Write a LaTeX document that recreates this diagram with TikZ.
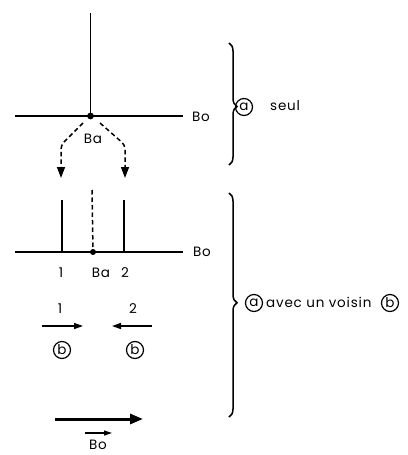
\documentclass[tikz,border=0pt]{standalone}
\usepackage{fontspec}
\setmainfont{Poppins}[LetterSpace=6]
\usetikzlibrary{arrows.meta,decorations.pathreplacing}
\begin{document}
\begin{tikzpicture}[x=1pt,y=-1pt,
  ln/.style={line width=1.5pt},
  lbl/.style={font=\fontsize{13.5}{15}\selectfont,inner sep=0pt},
  circ/.style={draw,circle,line width=1.2pt,minimum size=17pt,inner sep=0pt,font=\fontsize{13.5}{15}\selectfont},
  dsh/.style={line width=1.5pt,dash pattern=on 4.5pt off 3pt},
  bigtip/.style={-{Triangle[width=8pt,length=11pt]}},
  smalltip/.style={-{Triangle[width=6pt,length=9pt]}},
  brc/.style={line width=1.5pt,decorate,decoration={brace,amplitude=8pt,aspect=#1}}
]
\useasboundingbox (0,0) rectangle (407,455);
% ---- top: a seul
\coordinate (vt) at (90.5,13);
\coordinate (hl) at (15,116);
\coordinate (hr) at (183,116);
\coordinate (ba) at (90.5,116);
\draw[ln] (vt) -- (ba);
\draw[ln] (hl) -- (hr);
\fill (ba) circle (3.4pt);
\node[lbl] (bo1) at (201,117) {Bo};
\node[lbl] (ba1) at (93,139) {Ba};
% dashed arrows
\coordinate (dl0) at (83,123);
\coordinate (dl1) at (61,145);
\coordinate (dl2) at (61,178);
\coordinate (dr0) at (100,123);
\coordinate (dr1) at (125,145);
\coordinate (dr2) at (125,178);
\draw[dsh,bigtip,rounded corners=4pt] (dl0) -- (dl1) -- (dl2);
\draw[dsh,bigtip,rounded corners=4pt] (dr0) -- (dr1) -- (dr2);
% brace top
\coordinate (b1t) at (229,43);
\coordinate (b1b) at (229,165);
\draw[brc=0.52] (b1t) -- (b1b);
\node[circ] (ca1) at (244,107) {a};
\node[lbl,anchor=west] (seul) at (270,106) {seul};
% ---- second: avec un voisin
\coordinate (v1t) at (62,200);
\coordinate (v1b) at (62,252);
\coordinate (v2t) at (124,200);
\coordinate (v2b) at (124,252);
\coordinate (vdt) at (92,190);
\coordinate (vdb) at (93,252);
\coordinate (h2l) at (15,252);
\coordinate (h2r) at (183,252);
\draw[ln] (v1t) -- (v1b);
\draw[ln] (v2t) -- (v2b);
\draw[dsh] (vdt) -- (vdb);
\draw[ln] (h2l) -- (h2r);
\fill (vdb) circle (3pt);
\node[lbl] (bo2) at (202,252) {Bo};
\node[lbl] (n1) at (61,273) {1};
\node[lbl] (ba2) at (101,273) {Ba};
\node[lbl] (n2) at (125,273) {2};
\node[lbl] (m1) at (60,309) {1};
\node[lbl] (m2) at (133,309) {2};
\coordinate (a1s) at (42,326);
\coordinate (a1e) at (83,326);
\coordinate (a2s) at (152,326);
\coordinate (a2e) at (112,326);
\draw[ln,smalltip] (a1s) -- (a1e);
\draw[ln,smalltip] (a2s) -- (a2e);
\node[circ] (cb1) at (62,350) {b};
\node[circ] (cb2) at (135,350) {b};
% big arrow
\coordinate (bas) at (55,419);
\coordinate (bae) at (143,419);
\draw[line width=3pt,-{Triangle[width=10pt,length=13pt]}] (bas) -- (bae);
\node[lbl] (bo3) at (98,445) {Bo};
\coordinate (oas) at (85,433);
\coordinate (oae) at (112,433);
\draw[line width=1.2pt,-{Triangle[width=5pt,length=8pt]}] (oas) -- (oae);
% brace bottom
\coordinate (b2t) at (229,193);
\coordinate (b2b) at (229,417);
\draw[brc=0.49] (b2t) -- (b2b);
\node[circ] (ca2) at (254,303) {a};
\node[lbl,anchor=west] (avec) at (266,302) {avec un\ voisin};
\node[circ] (cb3) at (390,303) {b};
\end{tikzpicture}
\end{document}
